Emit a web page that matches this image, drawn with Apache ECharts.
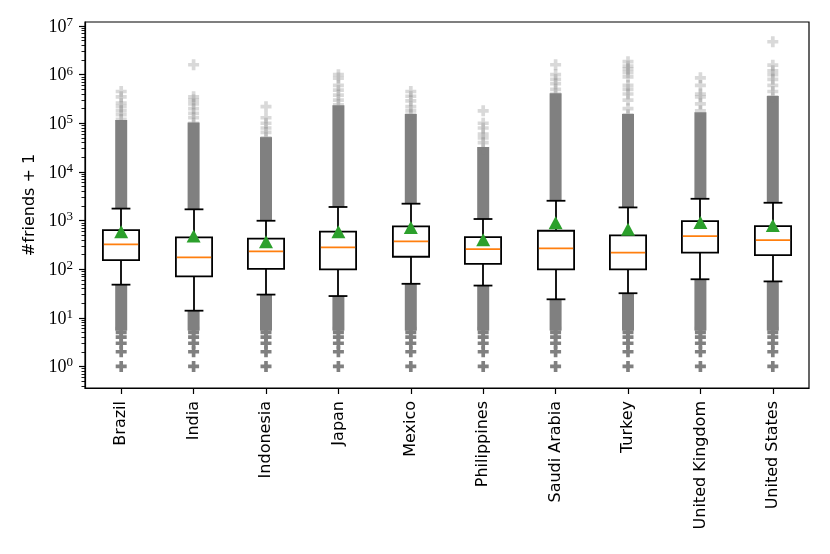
<!DOCTYPE html>
<html>
<head>
<meta charset="utf-8">
<script src="https://cdn.jsdelivr.net/npm/echarts@6/dist/echarts.min.js"></script>
<style>
  html, body { margin: 0; padding: 0; background: #fff; }
  #main { width: 830px; height: 554px; }
</style>
</head>
<body>
<div id="main"></div>
<script>
// 国家
var countries = ['Brazil', 'India', 'Indonesia', 'Japan', 'Mexico', 'Philippines',
    'Saudi Arabia', 'Turkey', 'United Kingdom', 'United States'];

// 箱线图各分位 (#friends + 1)
var lowerWhisker = [48, 14, 30, 28, 50, 46, 24, 32, 62, 56];
var q1 = [154, 71, 101, 99, 180, 128, 99, 99, 218, 195];
var median = [325, 174, 232, 280, 372, 259, 267, 218, 480, 397];
var q3 = [635, 450, 423, 589, 757, 458, 617, 494, 977, 771];
var upperWhisker = [1760, 1700, 990, 1900, 2220, 1075, 2550, 1860, 2800, 2320];
var means = [590, 480, 366, 585, 722, 403, 902, 662, 910, 789];

// 离群点: 下方密集区从 6 开始, 上方密集区到 denseTop
var denseLowStart = [6, 6, 6, 6, 6, 6, 6, 6, 6, 6];
var denseTop = [9e4, 8e4, 4e4, 1.8e5, 1.2e5, 2.5e4, 3.2e5, 1.2e5, 1.3e5, 2.8e5];
var lowOutliers = [1, 2, 3, 4, 5, 6];
var sparseUpper = [
    [4.5e5, 3.5e5, 2.6e5, 2.2e5, 1.8e5, 1.5e5, 1.2e5],
    [1.6e6, 3.5e5, 3e5, 2.5e5, 2e5, 1.6e5, 1.3e5, 1e5],
    [2.2e5, 1.3e5, 1e5, 8e4, 6.5e4, 5e4],
    [1.0e6, 8.5e5, 6e5, 4.8e5, 3.8e5, 3e5, 2.4e5],
    [4.5e5, 3.6e5, 2.9e5, 2.2e5, 1.8e5, 1.5e5],
    [1.8e5, 1.0e5, 8e4, 6e4, 5e4, 4e4, 3e4],
    [1.6e6, 1.0e6, 8e5, 6.5e5, 5e5, 4e5],
    [1.85e6, 1.5e6, 1.3e6, 1.1e6, 9e5, 6e5, 5e5, 4e5, 3e5, 2e5, 1.5e5],
    [8.6e5, 6e5, 4e5, 3.5e5, 2.5e5, 1.8e5],
    [4.75e6, 1.57e6, 1.2e6, 1.0e6, 8e5, 6e5, 4.5e5, 3.5e5]
];

// y 轴刻度
var yTicks = [1, 10, 100, 1000, 10000, 100000, 1000000, 10000000];
var yMin = 0.36, yMax = 1.21e7;
var yMinorTicks = [];
for (var k = -1; k <= 7; k++) {
    for (var m = 2; m <= 9; m++) {
        var t = m * Math.pow(10, k);
        if (t > yMin && t < yMax) yMinorTicks.push(t);
    }
}

var plusPath = 'path://M4 0h4v4h4v4h-4v4h-4v-4h-4v-4h4z';
var gray = '#808080';

var boxData = countries.map(function (c, i) {
    return [i, lowerWhisker[i], q1[i], median[i], q3[i], upperWhisker[i]];
});
var bandData = countries.map(function (c, i) {
    return [i, denseLowStart[i], lowerWhisker[i], upperWhisker[i], denseTop[i]];
});
var lowData = [];
var sparseData = [];
countries.forEach(function (c, i) {
    lowOutliers.forEach(function (v) { lowData.push([i, v]); });
    sparseUpper[i].forEach(function (v) { sparseData.push([i, v]); });
});
var meanData = means.map(function (v, i) { return [i, v]; });

function renderBands(params, api) {
    var i = api.value(0);
    var half = 5.5, w = 12;
    var pLow0 = api.coord([i, api.value(1)]);
    var pLow1 = api.coord([i, api.value(2)]);
    var pHigh0 = api.coord([i, api.value(3)]);
    var pHigh1 = api.coord([i, api.value(4)]);
    var x = pLow0[0];
    return {
        type: 'group',
        children: [
            { type: 'rect', shape: { x: x - w / 2, y: pLow1[1], width: w, height: pLow0[1] + 2 - pLow1[1] },
              style: { fill: gray } },
            { type: 'rect', shape: { x: x - w / 2, y: pHigh1[1] - half, width: w, height: pHigh0[1] - pHigh1[1] + half },
              style: { fill: gray } }
        ]
    };
}

function renderBox(params, api) {
    var i = api.value(0);
    var pLow = api.coord([i, api.value(1)]);
    var pQ1 = api.coord([i, api.value(2)]);
    var pMed = api.coord([i, api.value(3)]);
    var pQ3 = api.coord([i, api.value(4)]);
    var pHigh = api.coord([i, api.value(5)]);
    var band = api.size([1, 1])[0];
    var bw = band * 0.5, cw = band * 0.26;
    var x = Math.round(pMed[0]);
    var ls = { stroke: '#000', lineWidth: 1.8 };
    return {
        type: 'group',
        children: [
            { type: 'line', shape: { x1: x, y1: pQ3[1], x2: x, y2: pHigh[1] }, style: ls },
            { type: 'line', shape: { x1: x, y1: pQ1[1], x2: x, y2: pLow[1] }, style: ls },
            { type: 'line', shape: { x1: x - cw / 2, y1: pHigh[1], x2: x + cw / 2, y2: pHigh[1] }, style: ls },
            { type: 'line', shape: { x1: x - cw / 2, y1: pLow[1], x2: x + cw / 2, y2: pLow[1] }, style: ls },
            { type: 'rect', shape: { x: x - bw / 2, y: pQ3[1], width: bw, height: pQ1[1] - pQ3[1] },
              style: { fill: '#fff', stroke: '#000', lineWidth: 1.8 } },
            { type: 'line', shape: { x1: x - bw / 2 + 1, y1: pMed[1], x2: x + bw / 2 - 1, y2: pMed[1] },
              style: { stroke: '#ff7f0e', lineWidth: 1.8 } }
        ]
    };
}

var myChart = echarts.init(document.getElementById('main'), null, { renderer: 'canvas' });

var option = {
    animation: false,
    backgroundColor: '#fff',
    grid: {
        left: 85, right: 21, top: 22, bottom: 166,
        show: true, borderColor: '#000', borderWidth: 1.2, backgroundColor: 'transparent'
    },
    xAxis: {
        type: 'category',
        data: countries,
        boundaryGap: true,
        axisLine: { show: true, lineStyle: { color: '#000', width: 1.2 } },
        axisTick: { show: true, alignWithLabel: true, length: 6, lineStyle: { color: '#000', width: 1.2 } },
        axisLabel: {
            show: true, rotate: 90, margin: 13, color: '#000',
            fontFamily: 'DejaVu Sans', fontSize: 16
        },
        splitLine: { show: false }
    },
    yAxis: [{
        type: 'log',
        logBase: 10,
        min: yMin,
        max: yMax,
        position: 'left',
        name: '#friends + 1',
        nameLocation: 'middle',
        nameGap: 46,
        nameTextStyle: { color: '#000', fontFamily: 'DejaVu Sans', fontSize: 16 },
        axisLine: { show: true, lineStyle: { color: '#000', width: 1.2 } },
        axisTick: { show: true, customValues: yTicks, length: 6, lineStyle: { color: '#000', width: 1.2 } },
        axisLabel: {
            show: true,
            customValues: yTicks,
            margin: 12,
            color: '#000',
            formatter: function (v) {
                return '{b|10}{e|' + Math.round(Math.log10(v)) + '}';
            },
            rich: {
                b: { fontFamily: 'Liberation Serif', fontSize: 18, color: '#000', lineHeight: 20, verticalAlign: 'bottom' },
                e: { fontFamily: 'Liberation Serif', fontSize: 13, color: '#000', lineHeight: 12, verticalAlign: 'top' }
            }
        },
        splitLine: { show: false }
    }, {
        type: 'log',
        logBase: 10,
        min: yMin,
        max: yMax,
        position: 'left',
        offset: 0,
        axisLine: { show: false },
        axisTick: { show: true, customValues: yMinorTicks, length: 3.5, lineStyle: { color: '#000', width: 0.9 } },
        axisLabel: { show: false },
        splitLine: { show: false }
    }],
    series: [{
        type: 'custom',
        name: 'dense',
        renderItem: renderBands,
        data: bandData,
        encode: { x: 0, y: [1, 2, 3, 4] },
        z: 1,
        silent: true
    }, {
        type: 'scatter',
        name: 'low',
        data: lowData,
        symbol: plusPath,
        symbolSize: 11,
        itemStyle: { color: gray, opacity: 1 },
        z: 2,
        silent: true
    }, {
        type: 'scatter',
        name: 'sparse',
        data: sparseData,
        symbol: plusPath,
        symbolSize: 11,
        itemStyle: { color: gray, opacity: 0.3 },
        z: 2,
        silent: true
    }, {
        type: 'custom',
        name: 'box',
        renderItem: renderBox,
        data: boxData,
        encode: { x: 0, y: [1, 2, 3, 4, 5] },
        z: 3,
        silent: true
    }, {
        type: 'scatter',
        name: 'mean',
        data: meanData,
        symbol: 'triangle',
        symbolSize: [14, 13],
        itemStyle: { color: '#2ca02c', opacity: 1 },
        z: 4,
        silent: true
    }]
};

myChart.setOption(option, true);
</script>
</body>
</html>
